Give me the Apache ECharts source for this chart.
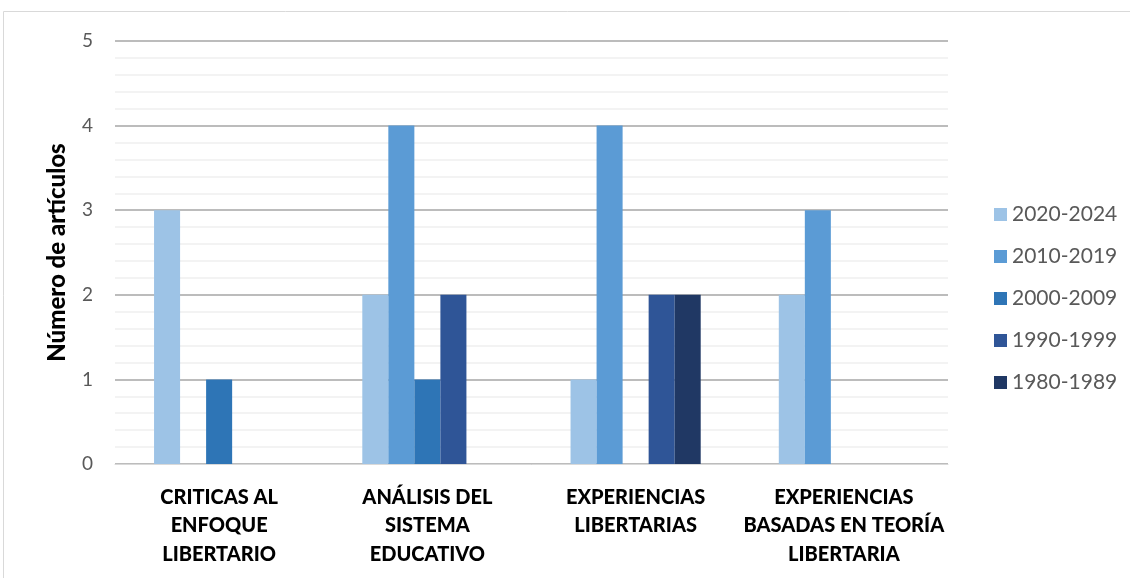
<!DOCTYPE html>
<html>
<head>
<meta charset="utf-8">
<script src="https://cdn.jsdelivr.net/npm/echarts@6/dist/echarts.min.js"></script>
<style>
html,body{margin:0;padding:0;background:#fff;}
#c{width:1130px;height:578px;}
</style>
</head>
<body>
<div id="c"></div>
<script>
const categories = ["CRITICAS AL\nENFOQUE\nLIBERTARIO", "ANÁLISIS DEL\nSISTEMA\nEDUCATIVO", "EXPERIENCIAS\nLIBERTARIAS", "EXPERIENCIAS\nBASADAS EN TEORÍA\nLIBERTARIA"];
const seriesNames = ["2020-2024", "2010-2019", "2000-2009", "1990-1999", "1980-1989"];
const s2020 = [3, 2, 1, 2];
const s2010 = [0, 4, 4, 3];
const s2000 = [1, 1, 0, 0];
const s1990 = [0, 2, 2, 0];
const s1980 = [0, 0, 2, 0];
const yTitle = "Número de artículos";
const colors = ["#9DC3E6", "#5B9BD5", "#2E75B6", "#2F5597", "#203864"];

const values = [s2020, s2010, s2000, s1990, s1980];
const chart = echarts.init(document.getElementById('c'), null, {renderer: 'canvas'});
const FONT = "Lato, 'Open Sans', sans-serif";
chart.setOption({
  animation: false,
  textStyle: {fontFamily: FONT},
  graphic: [{
    type: 'rect', silent: true,
    shape: {x: 3.5, y: 11.5, width: 1300, height: 800},
    style: {fill: 'none', stroke: '#d9d9d9', lineWidth: 1}
  }],
  grid: {left: 115, right: 182, top: 41, bottom: 114, containLabel: false},
  legend: {
    orient: 'vertical', left: 989, top: 199, itemGap: 21,
    itemWidth: 13, itemHeight: 13, icon: 'rect', itemStyle: {borderWidth: 0},
    textStyle: {fontFamily: FONT, fontSize: 21, color: '#595959', padding: [0, 0, 0, 0]},
    data: seriesNames
  },
  xAxis: {
    type: 'category', data: categories,
    axisLine: {lineStyle: {color: '#d9d9d9', width: 1}},
    axisTick: {show: false},
    axisLabel: {interval: 0, margin: 19, fontFamily: FONT, fontSize: 20, fontWeight: 900, color: '#000', lineHeight: 28.5}
  },
  yAxis: {
    type: 'value', min: 0, max: 5, interval: 1,
    name: yTitle, nameLocation: 'middle', nameRotate: 90, nameGap: 46,
    nameTextStyle: {fontFamily: FONT, fontSize: 24, fontWeight: 900, color: '#000'},
    axisLine: {show: false}, axisTick: {show: false},
    axisLabel: {fontFamily: FONT, fontSize: 19, color: '#595959', margin: 22},
    splitLine: {lineStyle: {color: '#a6a6a6', width: 1.5}},
    minorTick: {show: false, splitNumber: 5},
    minorSplitLine: {show: true, lineStyle: {color: '#f0f0f0', width: 1.5}}
  },
  series: seriesNames.map((n, i) => ({
    name: n, type: 'bar', data: values[i],
    barGap: '0%', barCategoryGap: '37.5%',
    itemStyle: {color: colors[i]}
  }))
});
</script>
</body>
</html>
